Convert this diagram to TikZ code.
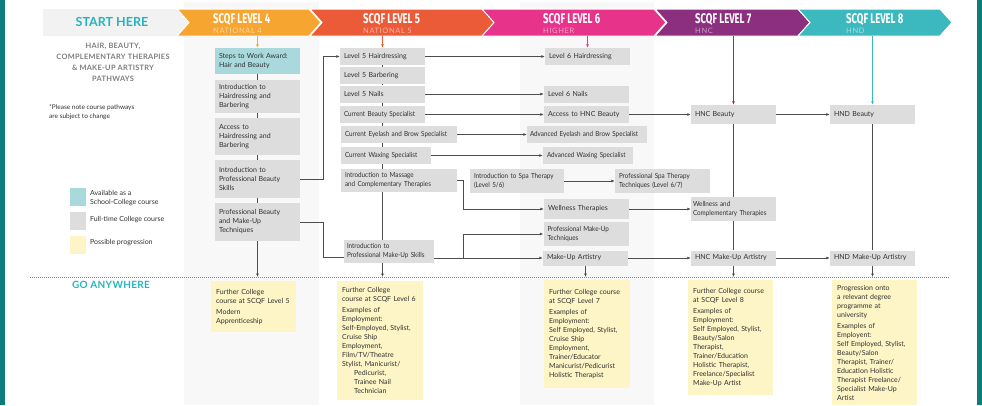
\documentclass[tikz,border=0pt]{standalone}
\usepackage{fontspec}
\setmainfont{Lato}
\newfontfamily\levelfont[FakeStretch=0.68]{Fira Sans}
\newfontfamily\narrowfont[FakeStretch=0.9]{Lato}
\usetikzlibrary{arrows.meta}
\hyphenpenalty=10000

\definecolor{sidebar}{HTML}{0E7C7B}
\definecolor{colgray}{HTML}{F8F8F8}
\definecolor{startgray}{HTML}{F2F2F2}
\definecolor{starttext}{HTML}{23B5BD}
\definecolor{titlegray}{HTML}{7D7D7D}
\definecolor{lvlfour}{HTML}{F6A531}
\definecolor{lvlfive}{HTML}{EC5B37}
\definecolor{lvlsix}{HTML}{E8338B}
\definecolor{lvlseven}{HTML}{8C2F7F}
\definecolor{lvleight}{HTML}{3CB9BE}
\definecolor{boxgray}{HTML}{DDDDDD}
\definecolor{boxteal}{HTML}{A9D9DC}
\definecolor{boxyellow}{HTML}{FDF5C6}
\definecolor{boxtext}{HTML}{303030}
\definecolor{linegray}{HTML}{4D4D4D}

\newcommand{\coursefont}{\fontsize{7}{9}\selectfont}
\newcommand{\narrowcoursefont}{\narrowfont\fontsize{7}{9}\selectfont}

\begin{document}
\begin{tikzpicture}[x=1pt,y=-1pt]
    \tikzset{
        course/.style = {fill=boxgray, text=boxtext, text width=77pt, inner xsep=4pt,
                         inner ysep=0pt, minimum height=17pt, align=left, font=\coursefont},
        narrow/.style = {course, font=\narrowcoursefont},
        school/.style = {course, fill=boxteal},
        further/.style = {fill=boxyellow, text=boxtext, inner xsep=5pt, inner ysep=0pt,
                          anchor=north west, align=left, font=\coursefont},
        lvlhead/.style = {text=white, inner sep=0pt, anchor=base west,
                          font=\levelfont\bfseries\fontsize{14}{14}\selectfont},
        lvlsub/.style = {inner sep=0pt, anchor=base west,
                         font=\fontsize{7.5}{7.5}\selectfont\addfontfeature{LetterSpace=8}},
        keytext/.style = {text=boxtext, inner sep=0pt, anchor=west, align=left,
                          font=\fontsize{7}{9}\selectfont},
        wire/.style = {draw=linegray, line width=0.8pt},
        link/.style = {wire, -{Latex[length=3.5pt,width=3pt]}}
    }
    \useasboundingbox (0,0) rectangle (982,405);

    % page background
    \fill[sidebar] (0,0) rectangle (5,405);
    \fill[sidebar] (977,0) rectangle (982,405);
    \fill[colgray] (184,2) rectangle (319,405);
    \fill[colgray] (520,2) rectangle (654,405);

    % header band
    \fill[startgray] (43,9) -- (176,9) -- (188,22.5) -- (176,36) -- (43,36) -- cycle;
    \filldraw[lvlfour, draw=white, line width=1pt]
        (177,9) -- (309,9) -- (321,22.5) -- (309,36) -- (177,36) -- (189,22.5) -- cycle;
    \filldraw[lvlfive, draw=white, line width=1pt]
        (310,9) -- (483,9) -- (495,22.5) -- (483,36) -- (310,36) -- (322,22.5) -- cycle;
    \filldraw[lvlsix, draw=white, line width=1pt]
        (482,9) -- (654,9) -- (666,22.5) -- (654,36) -- (482,36) -- (494,22.5) -- cycle;
    \filldraw[lvlseven, draw=white, line width=1pt]
        (655,9) -- (798,9) -- (810,22.5) -- (798,36) -- (655,36) -- (667,22.5) -- cycle;
    \filldraw[lvleight, draw=white, line width=1pt]
        (798,9) -- (940,9) -- (952,22.5) -- (940,36) -- (798,36) -- (810,22.5) -- cycle;

    \node[text=starttext, anchor=base, font=\fontsize{12.5}{14}\selectfont\bfseries] (start) at (112,26) {START HERE};
    \node[lvlhead] (tA) at (213,23.5) {SCQF LEVEL 4};
    \node[lvlsub, text=lvlfour!45] (sA) at (213,33.5) {NATIONAL 4};
    \node[lvlhead] (tB) at (363,23.5) {SCQF LEVEL 5};
    \node[lvlsub, text=lvlfive!45] (sB) at (363,33.5) {NATIONAL 5};
    \node[lvlhead] (tC) at (543,23.5) {SCQF LEVEL 6};
    \node[lvlsub, text=lvlsix!45] (sC) at (543,33.5) {HIGHER};
    \node[lvlhead] (tD) at (695,23.5) {SCQF LEVEL 7};
    \node[lvlsub, text=lvlseven!45] (sD) at (695,33.5) {HNC};
    \node[lvlhead] (tE) at (846,23.5) {SCQF LEVEL 8};
    \node[lvlsub, text=lvleight!45] (sE) at (846,33.5) {HND};

    \coordinate (hA) at (257.5,36);
    \coordinate (hB) at (382.5,36);
    \coordinate (hC) at (587.5,36);
    \coordinate (hD) at (733.5,36);
    \coordinate (hE) at (872.5,36);

    % left column texts
    \node[text=titlegray, align=center,
          font=\fontsize{7.4}{11}\selectfont\bfseries\addfontfeature{LetterSpace=4}] (title) at (113,62)
        {HAIR, BEAUTY,\\COMPLEMENTARY THERAPIES\\\& MAKE-UP ARTISTRY\\PATHWAYS};
    \node[keytext, font=\fontsize{6.5}{9}\selectfont] (note) at (49,112) {*Please note course pathways\\are subject to change};

    \node[fill=boxteal, minimum width=16pt, minimum height=18pt, inner sep=0pt] (keyA) at (78,197) {};
    \node[fill=boxgray, minimum width=16pt, minimum height=18pt, inner sep=0pt] (keyB) at (78,221) {};
    \node[fill=boxyellow, minimum width=16pt, minimum height=18pt, inner sep=0pt] (keyC) at (78,245) {};
    \node[keytext] (keyAtext) at (90,198) {Available as a\\School-College course};
    \node[keytext] (keyBtext) at (90,220) {Full-time College course};
    \node[keytext] (keyCtext) at (90,243) {Possible progression};

    \node[text=starttext, anchor=base,
          font=\fontsize{10}{10}\selectfont\bfseries\addfontfeature{LetterSpace=3}] (go) at (111,288) {GO ANYWHERE};

    % SCQF level 4
    \node[school, minimum height=26pt] (sw) at (257.5,61) {Steps to Work Award:\\Hair and Beauty};
    \node[course, minimum height=33pt] (ihb) at (257.5,96.5) {Introduction to\\Hairdressing and\\Barbering};
    \node[course, minimum height=37pt] (ahb) at (257.5,136.5) {Access to\\Hairdressing and\\Barbering};
    \node[course, minimum height=38pt] (ipb) at (257.5,179) {Introduction to\\Professional Beauty\\Skills};
    \node[course, minimum height=38pt] (pbm) at (257.5,222) {Professional Beauty\\and Make-Up\\Techniques};

    % SCQF level 5
    \node[course] (lfh) at (382.5,56.5) {Level 5 Hairdressing};
    \node[course] (lfb) at (382.5,75.5) {Level 5 Barbering};
    \node[course] (lfn) at (382.5,94) {Level 5 Nails};
    \node[narrow] (cbs) at (382.5,114.5) {Current Beauty Specialist};
    \node[narrow, text width=108pt] (ceb) at (399,134.5) {Current Eyelash and Brow Specialist};
    \node[narrow, text width=82pt] (cws) at (386,155.5) {Current Waxing Specialist};
    \node[narrow, text width=108pt, minimum height=23pt] (imc) at (399,180.5) {Introduction to Massage\\and Complementary Therapies};
    \node[narrow, text width=84pt, inner xsep=3pt, minimum height=23pt] (ipm) at (389,251.5) {Introduction to\\Professional Make-Up Skills};

    % SCQF level 6
    \node[course] (lsh) at (587.5,56.5) {Level 6 Hairdressing};
    \node[course] (lsn) at (586.5,94) {Level 6 Nails};
    \node[course] (ahnc) at (586.5,114.5) {Access to HNC Beauty};
    \node[narrow, text width=114pt, inner xsep=3pt] (aeb) at (587,134.5) {Advanced Eyelash and Brow Specialist};
    \node[narrow, text width=82pt] (aws) at (588,155.5) {Advanced Waxing Specialist};
    \node[narrow, text width=86pt, minimum height=24pt] (ist) at (517,181) {Introduction to Spa Therapy\\(Level 5/6)};
    \node[narrow, text width=87pt, minimum height=24pt] (pst) at (662.5,181) {Professional Spa Therapy\\Techniques (Level 6/7)};
    \node[course, minimum height=20pt] (wt) at (586.5,209) {Wellness Therapies};
    \node[narrow, minimum height=24pt] (pmt) at (586,234) {Professional Make-Up\\Techniques};
    \node[course, minimum height=15pt] (mua) at (585.5,258) {Make-Up Artistry};

    % SCQF level 7
    \node[course, minimum height=19pt] (hncb) at (733.5,114.5) {HNC Beauty};
    \node[narrow, text width=81pt, inner xsep=2pt, minimum height=24pt] (wct) at (733.5,209) {Wellness and\\Complementary Therapies};
    \node[course, minimum height=15pt] (hncm) at (733.5,258) {HNC Make-Up Artistry};

    % SCQF level 8
    \node[course, minimum height=19pt] (hndb) at (872.5,114.5) {HND Beauty};
    \node[course, minimum height=15pt] (hndm) at (872.5,258) {HND Make-Up Artistry};

    % go anywhere
    \coordinate (gl) at (30,277);
    \coordinate (gr) at (950,277);
    \draw[linegray!70, line width=0.5pt, dash pattern=on 1pt off 1pt] (gl) -- (gr);

    \node[further, text width=75pt, minimum height=51pt] (fA) at (211,281)
        {Further College\\course at SCQF Level 5\\[2pt]Modern\\Apprenticeship};
    \node[further, text width=76pt, minimum height=119pt] (fB) at (337,281)
        {Further College\\course at SCQF Level 6\\[2pt]Examples of\\Employment:\\Self-Employed, Stylist,\\Cruise Ship\\Employment,\\Film/TV/Theatre\\Stylist, Manicurist/\\\hspace*{12pt}Pedicurist,\\\hspace*{12pt}Trainee Nail\\\hspace*{12pt}Technician};
    \node[further, text width=76pt, minimum height=108pt] (fC) at (544,280)
        {Further College course\\at SCQF Level 7\\[2pt]Examples of\\Employment:\\Self Employed, Stylist,\\Cruise Ship\\Employment,\\Trainer/Educator\\Manicurist/Pedicurist\\Holistic Therapist};
    \node[further, text width=75pt, minimum height=115pt] (fD) at (688,280)
        {Further College course\\at SCQF Level 8\\[2pt]Examples of\\Employment:\\Self Employed, Stylist,\\Beauty/Salon\\Therapist,\\Trainer/Education\\Holistic Therapist,\\Freelance/Specialist\\Make-Up Artist};
    \node[further, text width=75pt, minimum height=125pt] (fE) at (832,280)
        {Progression onto\\a relevant degree\\programme at\\university\\[2pt]Examples of\\Employent:\\Self Employed, Stylist,\\Beauty/Salon\\Therapist, Trainer/\\Education Holistic\\Therapist Freelance/\\Specialist Make-Up\\Artist};

    % arrows from the level headers
    \draw[wire, draw=lvlfour, -{Latex[length=3.5pt,width=3pt]}] (hA) -- (sw.north);
    \draw[wire, draw=lvlfive, -{Latex[length=3.5pt,width=3pt]}] (hB) -- (lfh.north);
    \draw[wire, draw=lvlsix, -{Latex[length=3.5pt,width=3pt]}] (hC) -- (lsh.north);
    \draw[wire, draw=lvlseven, -{Latex[length=3.5pt,width=3pt]}] (hD) -- (hncb.north);
    \draw[wire, draw=lvleight, -{Latex[length=3.5pt,width=3pt]}] (hE) -- (hndb.north);

    % level 4 chain
    \draw[wire] (sw) -- (ihb);
    \draw[wire] (ihb) -- (ahb);
    \draw[wire] (ahb) -- (ipb);
    \draw[wire] (ipb) -- (pbm);
    \draw[link] (pbm.south) -- (pbm.south |- gl);

    % level 4 into level 5
    \coordinate (lj) at (323,257);
    \draw[link] (ipb.east) -- (ipb.east -| lj) |- (lfh.west);
    \draw[wire] (pbm.east) -| (lj) -- (lj -| ipm.west);

    % level 5 chain
    \draw[wire] (lfh) -- (lfb);
    \draw[wire] (lfb) -- (lfn);
    \draw[wire] (lfn) -- (cbs);
    \draw[wire] (cbs.south) -- (ceb.north -| cbs);
    \draw[wire] (ceb.south -| cbs) -- (cws.north -| cbs);
    \draw[wire] (cws.south -| cbs) -- (imc.north -| cbs);
    \draw[wire] (imc.south -| cbs) -- (ipm.north -| cbs);
    \draw[link] (ipm.south -| cbs) -- (gl -| cbs);

    % level 5 into level 6 and on
    \draw[link] (lfh) -- (lsh);
    \draw[link] (lfn) -- (lsn);
    \draw[link] (cbs) -- (ahnc);
    \draw[link] (ahnc) -- (hncb);
    \draw[link] (hncb) -- (hndb);
    \draw[link] (ceb) -- (aeb);
    \draw[link] (cws) -- (aws);
    \draw[link] (ist) -- (pst);
    \coordinate (split) at (463,258);
    \draw[link] (imc.east) -- (imc.east -| split) |- (wt.west);
    \draw[link] (wt) -- (wct);
    \draw[link] (ipm.east |- mua.west) -- (mua.west);
    \draw[link] (split) |- (pmt.west);
    \draw[link] (mua) -- (hncm);
    \draw[link] (hncm) -- (hndm);
    \draw[link] (mua.south) -- (mua.south |- gl);

    % level 7 and 8 chains
    \draw[wire] (hncb) -- (wct);
    \draw[wire] (wct) -- (hncm);
    \draw[link] (hncm.south) -- (hncm.south |- gl);
    \draw[wire] (hndb) -- (hndm);
    \draw[link] (hndm.south) -- (hndm.south |- gl);
\end{tikzpicture}
\end{document}
